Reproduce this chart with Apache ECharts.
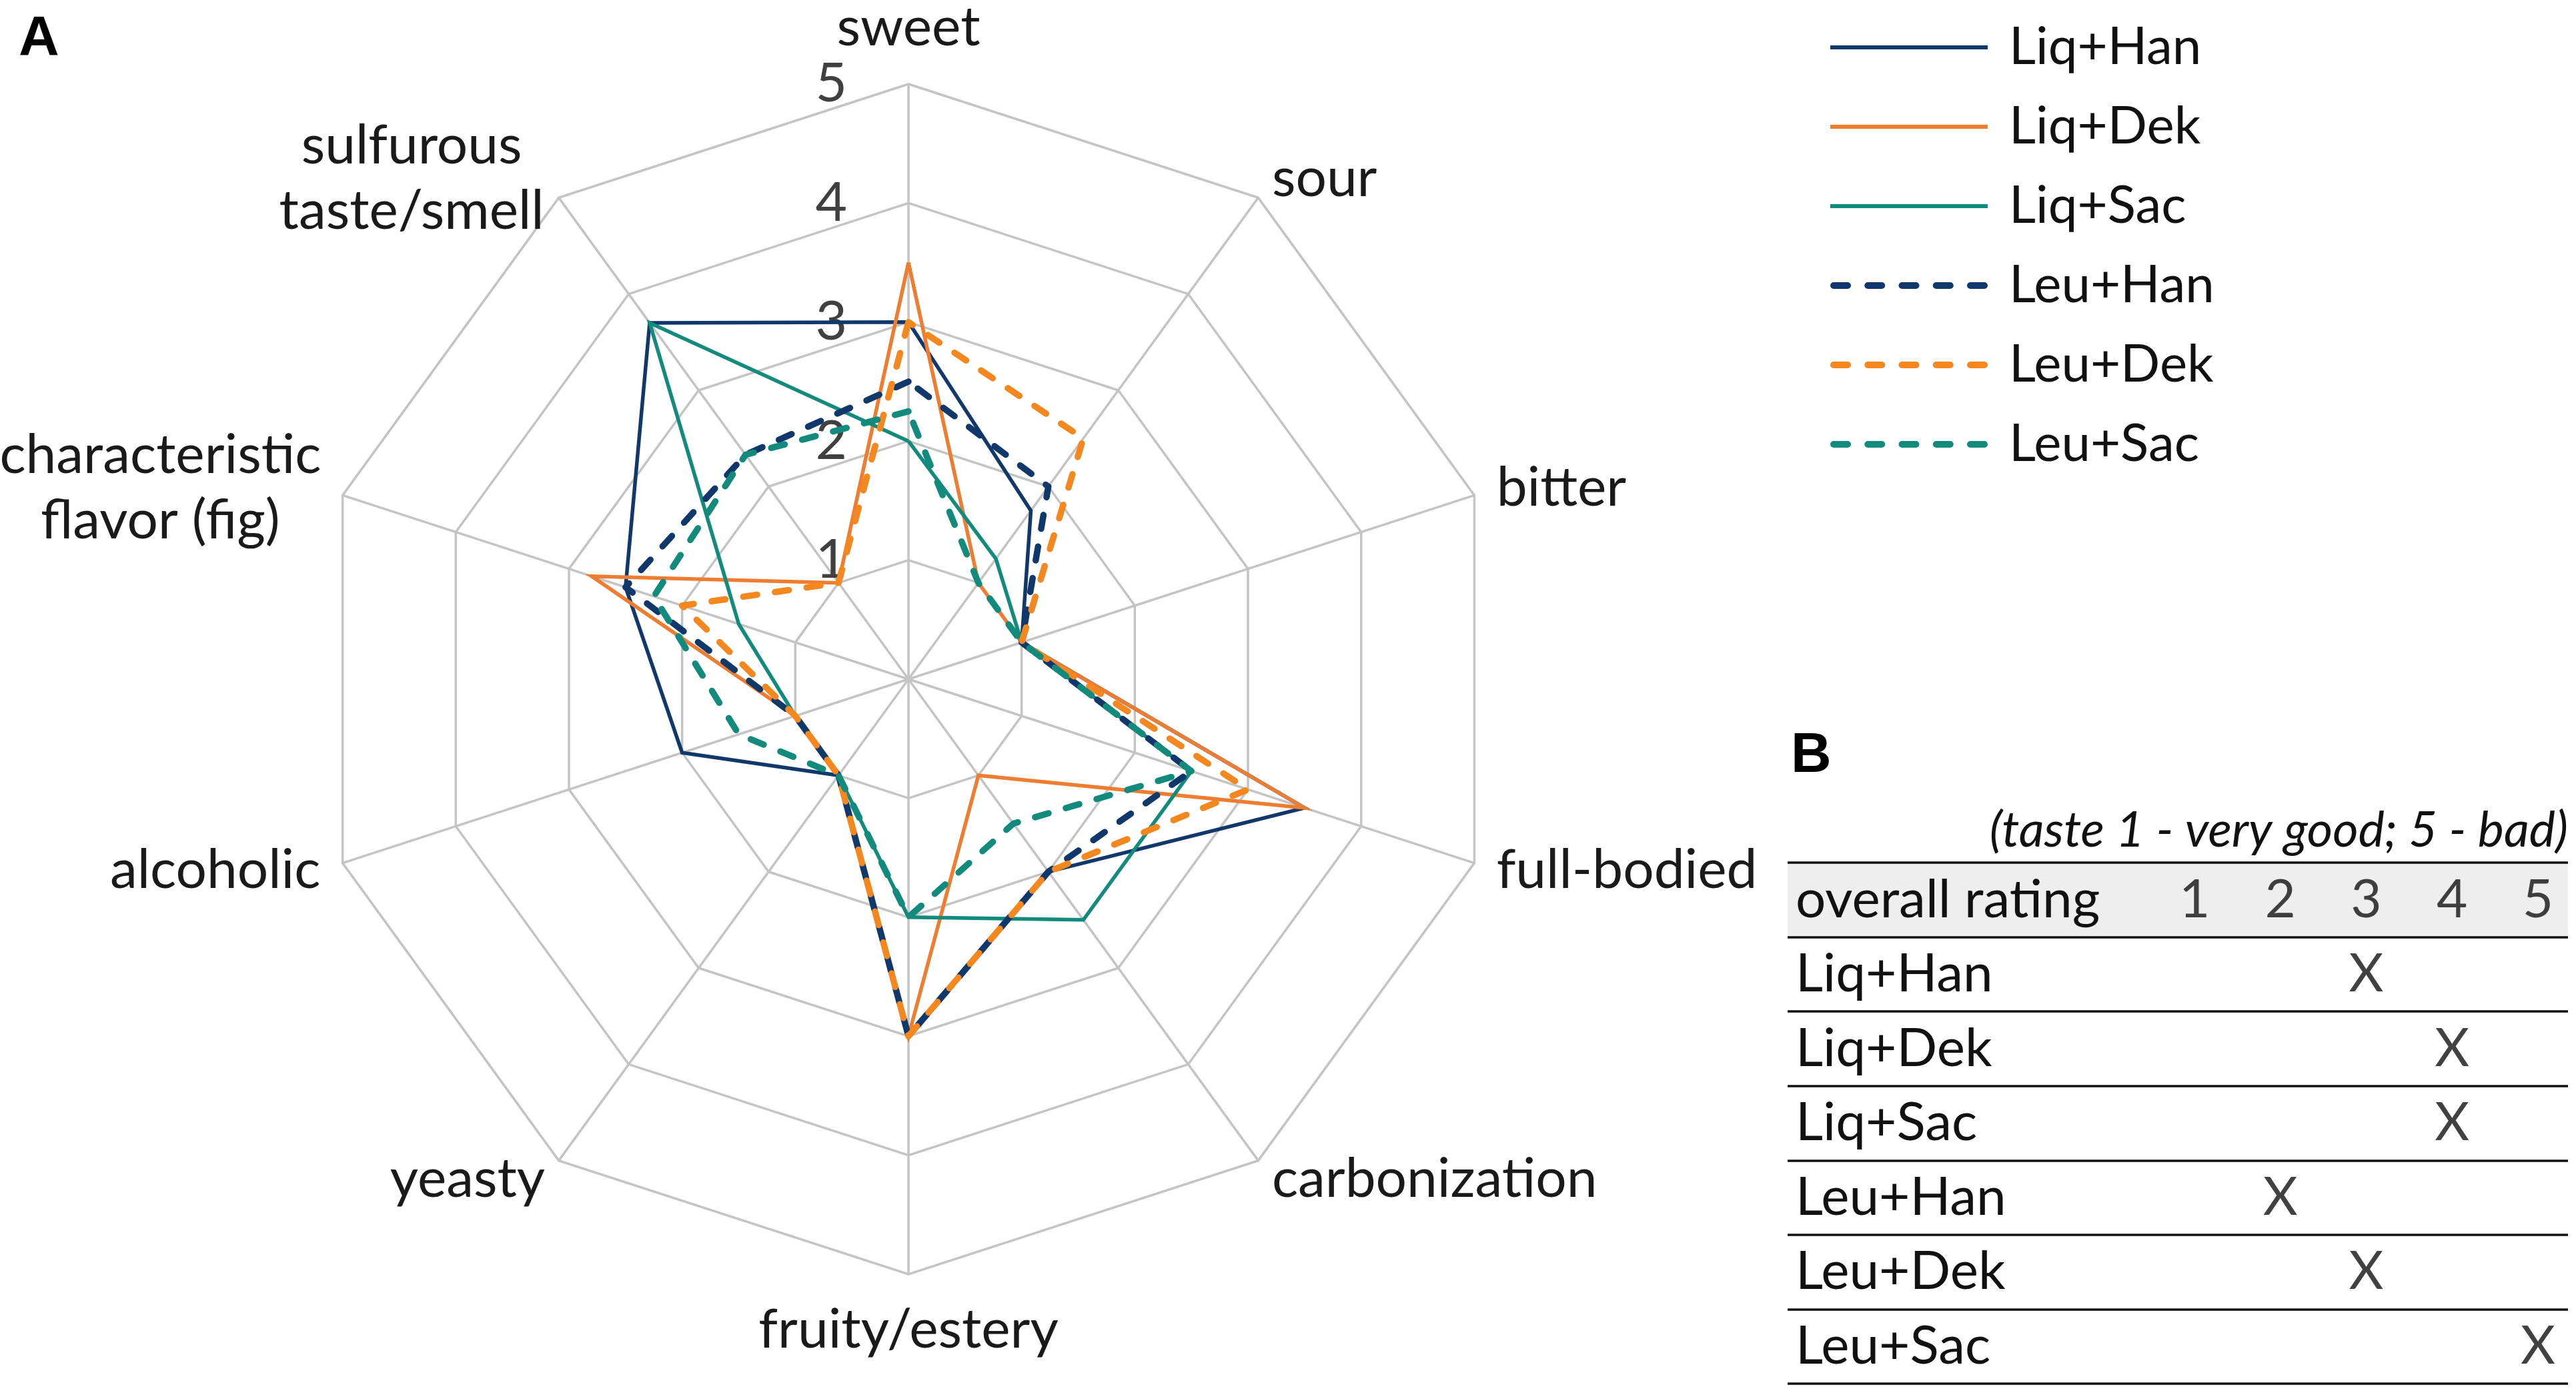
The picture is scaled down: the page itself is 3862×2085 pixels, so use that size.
<!DOCTYPE html>
<html>
<head>
<meta charset="utf-8">
<script src="https://cdn.jsdelivr.net/npm/echarts@6/dist/echarts.min.js"></script>
<style>
html,body{margin:0;padding:0;background:#fff;}
#main{width:3862px;height:2085px;}
</style>
</head>
<body>
<div id="main"></div>
<script>
// ---------- data ----------
const categories = ['sweet', 'sour', 'bitter', 'full-bodied', 'carbonization', 'fruity/estery',
  'yeasty', 'alcoholic', 'characteristic\nflavor (fig)', 'sulfurous\ntaste/smell'];
const seriesNames = ['Liq+Han', 'Liq+Dek', 'Liq+Sac', 'Leu+Han', 'Leu+Dek', 'Leu+Sac'];
const liqHan = [3.0, 1.75, 1, 3.5, 2.0, 3, 1, 2.0, 2.5, 3.7];
const liqDek = [3.5, 1.0, 1, 3.5, 1.0, 3, 1, 1.0, 2.8, 1.0];
const liqSac = [2.0, 1.25, 1, 2.5, 2.5, 2, 1, 1.0, 1.5, 3.7];
const leuHan = [2.5, 2.0, 1, 2.5, 2.0, 3, 1, 1.0, 2.5, 2.33];
const leuDek = [3.0, 2.5, 1, 3.0, 2.0, 3, 1, 1.0, 2.0, 1.0];
const leuSac = [2.25, 1.0, 1, 2.5, 1.5, 2, 1, 1.5, 2.25, 2.33];
const scaleMax = 5;
const tableHeader = 'overall rating';
const ratingScale = ['1', '2', '3', '4', '5'];
const overallRating = [3, 4, 4, 2, 3, 5];
const subtitle = '(taste 1 - very good; 5 - bad)';

// ---------- styles ----------
const FONT = 'Lato, "Open Sans", sans-serif';
const colors = ['#10386b', '#ee7d32', '#128a7c', '#10386b', '#f5871f', '#128a7c'];
const dashed = [false, false, false, true, true, true];
const allValues = [liqHan, liqDek, liqSac, leuHan, leuDek, leuSac];

// ECharts lays indicators counter-clockwise; reference goes clockwise from top
const order = [0, 9, 8, 7, 6, 5, 4, 3, 2, 1];
const indicator = order.map(i => ({ name: categories[i], min: 0, max: scaleMax }));

const solidIcon = 'path://M0,0H236V6H0Z';
let dashedIcon = 'path://';
for (let i = 0; i < 5; i++) {
  const x0 = i * 51.25;
  dashedIcon += 'M' + (x0 + 5) + ',0H' + (x0 + 26) + 'A5,5,0,0,1,' + (x0 + 26) + ',10H' + (x0 + 5) + 'A5,5,0,0,1,' + (x0 + 5) + ',0Z';
}

const radarSeries = seriesNames.map((name, k) => ({
  name: name,
  type: 'radar',
  symbol: 'none',
  z: 2 + k,
  itemStyle: { color: colors[k] },
  lineStyle: dashed[k]
    ? { color: colors[k], width: 9.5, type: [21, 27], cap: 'round', join: 'round' }
    : { color: colors[k], width: 5.5, type: 'solid', join: 'miter' },
  data: [{ name: name, value: order.map(i => allValues[k][i]) }]
}));

const nameRich = {
  m1: { width: 480, align: 'center', fontSize: 82, lineHeight: 98, fontFamily: FONT, color: '#1a1a1a' },
  m2: { width: 400, align: 'center', fontSize: 82, lineHeight: 98, fontFamily: FONT, color: '#1a1a1a' }
};

const chart = echarts.init(document.getElementById('main'), null, { renderer: 'canvas' });
const option = {
  animation: false,
  backgroundColor: '#ffffff',
  textStyle: { fontFamily: FONT },
  legend: {
    orient: 'vertical',
    left: 2739,
    top: 21,
    itemWidth: 236,
    itemHeight: 10,
    itemGap: 29,
    selectedMode: false,
    textStyle: { fontSize: 78, lineHeight: 90, fontFamily: FONT, color: '#111', padding: [0, 0, 0, 27] },
    data: seriesNames.map((n, k) => ({ name: n, icon: dashed[k] ? dashedIcon : solidIcon }))
  },
  radar: {
    center: [1362, 1018],
    radius: 892,
    startAngle: 90,
    splitNumber: 5,
    shape: 'polygon',
    nameGap: 35,
    axisName: {
      color: '#1a1a1a', fontSize: 82, lineHeight: 98, fontFamily: FONT,
      formatter: function (name) {
        if (name.indexOf('characteristic') === 0) return name.split('\n').map(s => '{m1|' + s + '}').join('\n');
        if (name.indexOf('sulfurous') === 0) return name.split('\n').map(s => '{m2|' + s + '}').join('\n');
        return name;
      },
      rich: nameRich
    },
    axisLine: { lineStyle: { color: '#c4c4c4', width: 3.5 } },
    splitLine: { lineStyle: { color: '#c4c4c4', width: 3.5 } },
    splitArea: { show: false },
    axisTick: { show: false },
    axisLabel: { show: false },
    indicator: indicator
  },
  grid: [
    { left: 2680, right: 12, top: 1293, height: 781 },
    { left: 1362, width: 1, top: 1018 - 892, height: 892 }
  ],
  xAxis: [
    { gridIndex: 0, type: 'value', min: -3.74, max: 5.35, show: false },
    { gridIndex: 1, type: 'value', min: 0, max: 1, show: false }
  ],
  yAxis: [
    {
      gridIndex: 0, type: 'category', inverse: true,
      data: [tableHeader].concat(seriesNames),
      axisLine: { show: false }, axisTick: { show: false },
      axisLabel: { align: 'left', margin: -12, fontSize: 80, color: '#111', fontFamily: FONT, interval: 0 },
      splitLine: { show: true, interval: 0, lineStyle: { color: '#111', width: 3.5 } },
      splitArea: { show: true, interval: 0, areaStyle: { color: ['#eeeeee', 'rgba(0,0,0,0)', 'rgba(0,0,0,0)', 'rgba(0,0,0,0)', 'rgba(0,0,0,0)', 'rgba(0,0,0,0)', 'rgba(0,0,0,0)'] } }
    },
    {
      gridIndex: 1, type: 'value', min: 0, max: scaleMax, interval: 1,
      axisLine: { show: false }, axisTick: { show: false }, splitLine: { show: false },
      axisLabel: { margin: 92, fontSize: 82, color: '#404040', fontFamily: FONT, padding: [20, 0, 0, 0],
        formatter: v => (v === 0 ? '' : String(v)) }
    }
  ],
  series: radarSeries.concat([
    {
      name: 'header', type: 'scatter', xAxisIndex: 0, yAxisIndex: 0, silent: true,
      symbolSize: 1, itemStyle: { color: 'rgba(0,0,0,0)' },
      label: { show: true, position: 'inside', fontSize: 80, color: '#111', fontFamily: FONT,
        formatter: p => p.value[2] },
      data: ratingScale.map((t, i) => [i + 1, tableHeader, t])
    },
    {
      name: 'marks', type: 'scatter', xAxisIndex: 0, yAxisIndex: 0, silent: true,
      symbolSize: 1, itemStyle: { color: 'rgba(0,0,0,0)' },
      label: { show: true, position: 'inside', fontSize: 80, color: '#111', fontFamily: FONT, formatter: 'X' },
      data: overallRating.map((r, i) => [r, seriesNames[i]])
    }
  ]),
  graphic: [
    { type: 'text', left: 28, top: 18, style: { text: 'A', font: 'bold 84px "Liberation Sans", Arial, sans-serif', fill: '#000' } },
    { type: 'text', left: 2685, top: 1092, style: { text: 'B', font: 'bold 84px "Liberation Sans", Arial, sans-serif', fill: '#000' } },
    { type: 'text', right: 12, top: 1208, style: { text: subtitle, font: 'italic 74px Lato, "Open Sans", sans-serif', fill: '#111' } }
  ]
};
chart.setOption(option);
</script>
</body>
</html>
